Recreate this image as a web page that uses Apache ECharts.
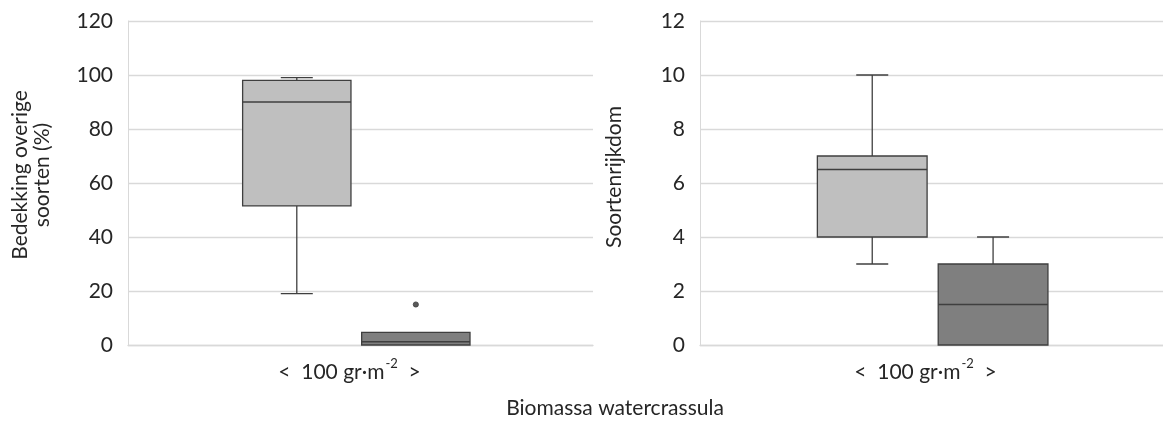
<!DOCTYPE html>
<html>
<head>
<meta charset="utf-8">
<script src="https://cdn.jsdelivr.net/npm/echarts@6/dist/echarts.min.js"></script>
<style>
html,body{margin:0;padding:0;background:#fff;}
#chart{width:1163px;height:422px;}
</style>
</head>
<body>
<div id="chart"></div>
<script>
// ---- data ----
const groups = ['< 100 gr·m-2', '> 100 gr·m-2'];
const xLabel = '<  100 gr·m-2  >';
const xTitle = 'Biomassa watercrassula';
const coverTitle = 'Bedekking overige\nsoorten (%)';
const richnessTitle = 'Soortenrijkdom';
// [min, Q1, median, Q3, max] per group
const coverStats = [
  [19, 51.5, 90, 98, 99],
  [0, 0, 1.2, 4.7, 4.7]
];
// [group index, value]
const coverOutliers = [[1, 15]];
const richnessStats = [
  [3, 4, 6.5, 7, 10],
  [0, 0, 1.5, 3, 4]
];
const richnessOutliers = [];
const coverTicks = [0, 20, 40, 60, 80, 100, 120];
const richnessTicks = [0, 2, 4, 6, 8, 10, 12];

// ---- styling ----
const FONT = 'Lato';
const FS = 21;
const TEXT = '#262626';
const GRID = '#d9d9d9';
const FILLS = ['#bfbfbf', '#7f7f7f'];
const STROKE = '#3f3f3f';

function boxRenderer(offsets, widthFrac) {
  return function (params, api) {
    const g = params.dataIndex;
    const bw = api.size([1, 0])[0];
    const cx = api.coord([0, api.value(3)])[0] + offsets[g] * bw;
    const half = widthFrac * bw / 2;
    const capHalf = 16;
    const y = i => api.coord([0, api.value(i)])[1];
    const yMin = y(1), yQ1 = y(2), yMed = y(3), yQ3 = y(4), yMax = y(5);
    const ls = { stroke: STROKE, lineWidth: 1.3 };
    const children = [];
    if (yMax < yQ3 - 0.5) {
      children.push({ type: 'line', shape: { x1: cx, y1: yQ3, x2: cx, y2: yMax }, style: ls });
      children.push({ type: 'line', shape: { x1: cx - capHalf, y1: yMax, x2: cx + capHalf, y2: yMax }, style: ls });
    }
    if (yMin > yQ1 + 0.5) {
      children.push({ type: 'line', shape: { x1: cx, y1: yQ1, x2: cx, y2: yMin }, style: ls });
      children.push({ type: 'line', shape: { x1: cx - capHalf, y1: yMin, x2: cx + capHalf, y2: yMin }, style: ls });
    }
    children.push({ type: 'rect', shape: { x: cx - half, y: yQ3, width: half * 2, height: yQ1 - yQ3 },
      style: { fill: FILLS[g], stroke: STROKE, lineWidth: 1.3 } });
    children.push({ type: 'line', shape: { x1: cx - half, y1: yMed, x2: cx + half, y2: yMed }, style: ls });
    return { type: 'group', children: children };
  };
}
function outlierRenderer(offsets) {
  return function (params, api) {
    const g = api.value(2);
    const bw = api.size([1, 0])[0];
    const p = api.coord([0, api.value(1)]);
    return { type: 'circle', shape: { cx: p[0] + offsets[g] * bw, cy: p[1], r: 2.6 },
      style: { fill: '#595959', stroke: '#404040', lineWidth: 0.8 } };
  };
}

const leftOffsets = [-0.137, 0.119];
const rightOffsets = [-0.128, 0.133];

function labelRich(padRight) {
  return {
    formatter: () => '{a|<  100 gr·m}{s|-2}{a|  >}',
    margin: 12,
    rich: {
      a: { fontFamily: FONT, fontSize: FS, color: TEXT, lineHeight: 26, verticalAlign: 'bottom' },
      s: { fontFamily: FONT, fontSize: 13, color: TEXT, lineHeight: 26, verticalAlign: 'top', padding: [0, 0, 0, 1] }
    },
    padding: [0, padRight, 0, 0]
  };
}

function yAxis(gridIndex, ticks) {
  return {
    type: 'value', gridIndex: gridIndex,
    min: ticks[0], max: ticks[ticks.length - 1], interval: ticks[1] - ticks[0],
    axisLine: { show: true, lineStyle: { color: GRID, width: 1 } },
    axisTick: { show: false },
    axisLabel: { fontFamily: FONT, fontSize: FS, color: TEXT, margin: 15 },
    splitLine: { show: true, lineStyle: { color: GRID, width: 1.3 } }
  };
}

function rotatedTitle(text, x, y) {
  return { type: 'text', x: x, y: y, rotation: Math.PI / 2,
    style: { text: text, fontFamily: FONT, fontSize: FS, fill: TEXT, lineHeight: 22,
      textAlign: 'center', textVerticalAlign: 'middle' } };
}

const option = {
  animation: false,
  backgroundColor: '#ffffff',
  grid: [
    { left: 128, right: 570, top: 21, bottom: 77 },
    { left: 700, right: 0, top: 21, bottom: 77 }
  ],
  xAxis: [
    { type: 'category', gridIndex: 0, data: [xLabel],
      axisLine: { show: true, lineStyle: { color: GRID, width: 1.3 } }, axisTick: { show: false },
      axisLabel: labelRich(22) },
    { type: 'category', gridIndex: 1, data: [xLabel],
      axisLine: { show: true, lineStyle: { color: GRID, width: 1.3 } }, axisTick: { show: false },
      axisLabel: labelRich(12) }
  ],
  yAxis: [
    yAxis(0, coverTicks),
    yAxis(1, richnessTicks)
  ],
  series: [
    { type: 'custom', name: 'cover', xAxisIndex: 0, yAxisIndex: 0,
      renderItem: boxRenderer(leftOffsets, 0.233),
      encode: { x: 0, y: [1, 2, 3, 4, 5] },
      data: coverStats.map(s => [0].concat(s)) },
    { type: 'custom', name: 'coverOutliers', xAxisIndex: 0, yAxisIndex: 0,
      renderItem: outlierRenderer(leftOffsets),
      encode: { x: 0, y: 1 },
      data: coverOutliers.map(o => [0, o[1], o[0]]) },
    { type: 'custom', name: 'richness', xAxisIndex: 1, yAxisIndex: 1,
      renderItem: boxRenderer(rightOffsets, 0.237),
      encode: { x: 0, y: [1, 2, 3, 4, 5] },
      data: richnessStats.map(s => [0].concat(s)) },
    { type: 'custom', name: 'richnessOutliers', xAxisIndex: 1, yAxisIndex: 1,
      renderItem: outlierRenderer(rightOffsets),
      encode: { x: 0, y: 1 },
      data: richnessOutliers.map(o => [0, o[1], o[0]]) }
  ],
  graphic: [
    { type: 'text', x: 615, y: 408,
      style: { text: xTitle, fontFamily: FONT, fontSize: FS, fill: TEXT, textAlign: 'center', textVerticalAlign: 'middle' } },
    rotatedTitle(coverTitle, 31, 175),
    rotatedTitle(richnessTitle, 614, 177)
  ]
};

const chart = echarts.init(document.getElementById('chart'), null, { renderer: 'canvas' });
chart.setOption(option);
</script>
</body>
</html>
